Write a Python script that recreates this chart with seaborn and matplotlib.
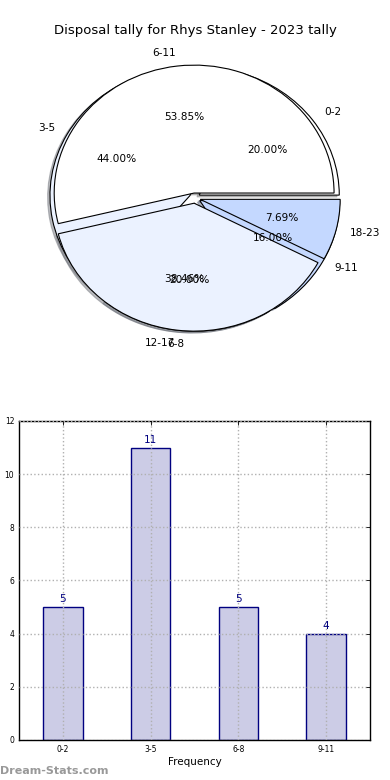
import seaborn as sns
import matplotlib.pyplot as plt
import pandas as pd

# --- data ---
title = 'Disposal tally for Rhys Stanley - 2023 tally'

# first pie (drawn on top)
pie_a_labels = ['6-11', '12-17', '18-23']
pie_a_values = [7, 5, 1]
pie_a_colors = ['#ffffff', '#ebf2ff', '#c4d8ff']

# second pie (drawn underneath)
pie_b_labels = ['0-2', '3-5', '6-8', '9-11']
pie_b_values = [5, 11, 5, 4]
pie_b_colors = ['#ffffff', '#ebf2ff', '#dbe7ff', '#c4d8ff']

bar_categories = ['0-2', '3-5', '6-8', '9-11']
bar_values = [5, 11, 5, 4]

sns.set_style("white")
plt.rcParams['font.family'] = ['DejaVu Sans']
plt.rcParams.update({'text.color': 'black', 'axes.labelcolor': 'black',
                     'xtick.color': 'black', 'ytick.color': 'black'})

fig = plt.figure(figsize=(3.9, 7.8), dpi=100)

# --- pie panel ---
ax_pie = fig.add_axes([0.051, 0.541, 0.897, 0.410])
wedge_style = {'edgecolor': 'black', 'linewidth': 0.8}
for labels, values, colors in [(pie_b_labels, pie_b_values, pie_b_colors),
                               (pie_a_labels, pie_a_values, pie_a_colors)]:
    ax_pie.pie(values, labels=labels, colors=colors, autopct='%.2f%%',
               explode=[0.04] * len(values),
               shadow={'ox': -0.012, 'oy': -0.01, 'shade': 0.5},
               startangle=0, wedgeprops=wedge_style,
               textprops={'fontsize': 7.6, 'color': 'black'})
ax_pie.set_aspect('auto')
ax_pie.set_xlim(-1.25, 1.25)
ax_pie.set_ylim(-1.25, 1.25)
fig.text(0.5, 0.961, title, ha='center', va='center', fontsize=9.5)

# --- bar panel ---
ax_bar = fig.add_axes([0.049, 0.0513, 0.9, 0.409])
df = pd.DataFrame({'range': bar_categories, 'tally': bar_values})
sns.barplot(data=df, x='range', y='tally', order=bar_categories, ax=ax_bar,
            color='#ccccE6', edgecolor='#000080', linewidth=1, width=0.45,
            saturation=1)
for i, v in enumerate(bar_values):
    ax_bar.text(i, v + 0.1, str(v), ha='center', va='bottom',
                color='#000080', fontsize=7.5)
ax_bar.set_xlim(-0.5, 3.5)
ax_bar.set_ylim(0, 12)
ax_bar.set_yticks(range(0, 13, 2))
ax_bar.grid(True, linestyle=':', color='#b0b0b0', linewidth=1)
ax_bar.set_axisbelow(False)
ax_bar.tick_params(direction='in', labelsize=5.5, top=True, right=True,
                   length=3, width=0.6)
for s in ax_bar.spines.values():
    s.set_color('black')
    s.set_linewidth(1)
ax_bar.set_xlabel('Frequency', fontsize=7.5, labelpad=2)
ax_bar.set_ylabel('Disposal Tally', fontsize=7.5, labelpad=8)

fig.text(0.0, 0.012, 'Dream-Stats.com', fontsize=8, color='#999999',
         fontweight='bold', ha='left', va='center')

plt.savefig('out.png', dpi=100)
